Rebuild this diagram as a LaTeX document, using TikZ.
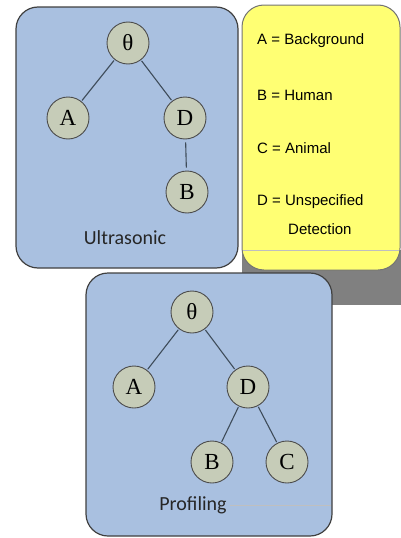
\documentclass[tikz,border=0pt]{standalone}
\usepackage{fontspec}
\setmainfont{Liberation Sans}
\newfontfamily\treefont{Liberation Serif}
\newfontfamily\panelfont{Carlito}
\usetikzlibrary{positioning}

\definecolor{panelblue}{RGB}{169,192,224}
\definecolor{nodegreen}{RGB}{198,204,184}
\definecolor{keyyellow}{RGB}{255,255,115}
\definecolor{edgegray}{RGB}{62,76,90}

\begin{document}
\begin{tikzpicture}[
	x=1pt, y=-1pt,
	panel/.style = {draw=black!75, line width=1.2pt, fill=panelblue, rounded corners=22pt},
	keybox/.style = {draw=black!55, line width=1pt, fill=keyyellow, rounded corners=22pt},
	leaf/.style = {circle, draw=black!70, line width=0.9pt, fill=nodegreen,
		minimum size=42pt, inner sep=0pt, font=\treefont\fontsize{23}{26}\selectfont},
	branch/.style = {draw=edgegray, line width=1.1pt, shorten <=1pt, shorten >=1pt},
	caption/.style = {font=\panelfont\fontsize{20}{24}\selectfont, text=black!85},
	keyline/.style = {anchor=west, inner sep=0pt, font=\fontsize{15}{18}\selectfont},
	faint/.style = {draw=black!25, line width=0.6pt}
	]
	\useasboundingbox (0,0) rectangle (401,538);

	% key panel with its shadow
	\fill[black!50] (242,250) rectangle (401,305);
	\draw[keybox] (242,5) rectangle (400,270);
	\draw[faint] (243,250) -- (399,250);
	\node[keyline] (keyA) at (257,41) {A = Background};
	\node[keyline] (keyB) at (257,95) {B = Human};
	\node[keyline] (keyC) at (257,148) {C = Animal};
	\node[keyline] (keyD) at (257,202) {D = Unspecified};
	\node[keyline] (keyDd) at (288,229) {Detection};

	% ultrasonic tree
	\draw[panel] (16,7) rectangle (238,268);
	\node[leaf] (uroot) at (128,43) {θ};
	\node[leaf] (uA) at (68,118) {A};
	\node[leaf] (uD) at (185,118) {D};
	\node[leaf] (uB) at (187,192) {B};
	\draw[branch] (uroot) -- (uA);
	\draw[branch] (uroot) -- (uD);
	\draw[branch, shorten <=3pt, shorten >=3pt] (uD) -- (uB);
	\node[caption] (ucap) at (125,238) {Ultrasonic};

	% profiling tree
	\draw[panel] (86,273) rectangle (332,536);
	\node[leaf] (proot) at (192,312) {θ};
	\node[leaf] (pA) at (134,387) {A};
	\node[leaf] (pD) at (248,387) {D};
	\node[leaf] (pB) at (212,462) {B};
	\node[leaf] (pC) at (287,462) {C};
	\draw[branch] (proot) -- (pA);
	\draw[branch] (proot) -- (pD);
	\draw[branch] (pD) -- (pB);
	\draw[branch] (pD) -- (pC);
	\node[caption] (pcap) at (193,505) {Profiling};
	\coordinate (pline) at (331,505);
	\draw[faint] (pcap.east) -- (pline);
\end{tikzpicture}
\end{document}
